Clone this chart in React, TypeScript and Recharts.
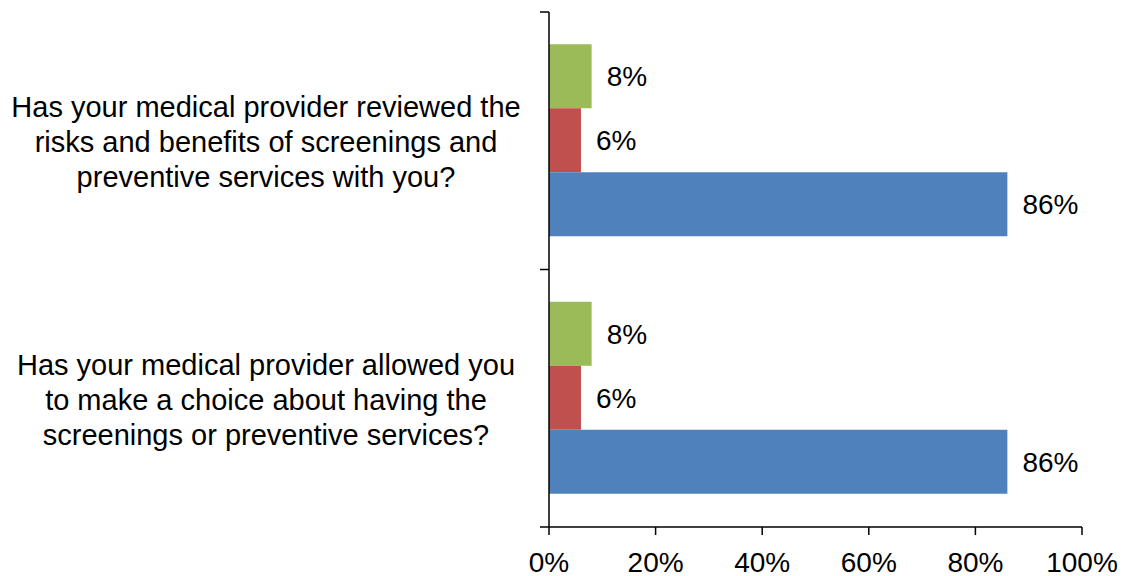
import React from 'react';
import { BarChart, Bar, XAxis, YAxis, LabelList } from 'recharts';

const questions = [
    'Has your medical provider reviewed the\nrisks and benefits of screenings and\npreventive services with you?',
    'Has your medical provider allowed you\nto make a choice about having the\nscreenings or preventive services?',
];
const notSure = [8, 8];
const no = [6, 6];
const yes = [86, 86];
const percentTicks = [0, 20, 40, 60, 80, 100];

const data = questions.map((q, i) => ({ question: q, notSure: notSure[i], no: no[i], yes: yes[i] }));

const FONT = '"Liberation Sans", Arial, sans-serif';

const QuestionTick = (props: any) => {
    const { x, y, payload, index } = props;
    const half = payload.offset ?? 0;
    const lines: string[] = String(payload.value).split('\n');
    const cx = x - 283;
    return (
        <g>
            <line x1={x - 9} x2={x} y1={y - half} y2={y - half} stroke="#000" strokeWidth={1.5} />
            {index === questions.length - 1 && (
                <line x1={x - 9} x2={x} y1={y + half} y2={y + half} stroke="#000" strokeWidth={1.5} />
            )}
            <text x={cx} y={y} textAnchor="middle" fill="#000" fontSize={29} fontFamily={FONT}>
                {lines.map((l, i) => (
                    <tspan key={i} x={cx} y={y + 11.5 + (i - 1) * 35}>
                        {l}
                    </tspan>
                ))}
            </text>
        </g>
    );
};

const pct = (v: any) => `${v}%`;

const App = () => {
    return (
        <div style={{ position: 'absolute', left: 0, top: 0, background: '#fff' }}>
            <BarChart
                width={1128}
                height={576}
                data={data}
                layout="vertical"
                margin={{ top: 12, right: 46, bottom: 0, left: 0 }}
                barCategoryGap="12.5%"
                barGap={0}
            >
                <XAxis
                    type="number"
                    domain={[0, 100]}
                    ticks={percentTicks}
                    tickFormatter={pct}
                    height={49}
                    tickSize={8}
                    tickMargin={17}
                    stroke="#000"
                    strokeWidth={1.5}
                    tick={{ fill: '#000', fontSize: 28, fontFamily: FONT }}
                    interval={0}
                />
                <YAxis
                    type="category"
                    dataKey="question"
                    width={549}
                    tickSize={0}
                    tickMargin={0}
                    tickLine={false}
                    stroke="#000"
                    strokeWidth={1.5}
                    tick={<QuestionTick />}
                    interval={0}
                />
                <Bar dataKey="notSure" fill="#9BBB59" isAnimationActive={false}>
                    <LabelList dataKey="notSure" position="right" offset={15} formatter={pct} fill="#000" fontSize={28} fontFamily={FONT} />
                </Bar>
                <Bar dataKey="no" fill="#C0504D" isAnimationActive={false}>
                    <LabelList dataKey="no" position="right" offset={15} formatter={pct} fill="#000" fontSize={28} fontFamily={FONT} />
                </Bar>
                <Bar dataKey="yes" fill="#4F81BD" isAnimationActive={false}>
                    <LabelList dataKey="yes" position="right" offset={15} formatter={pct} fill="#000" fontSize={28} fontFamily={FONT} />
                </Bar>
            </BarChart>
        </div>
    );
};

export default App;
